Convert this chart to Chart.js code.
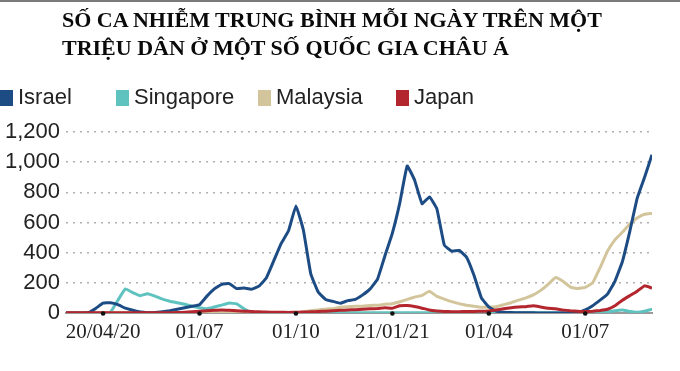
<!DOCTYPE html>
<html><head><meta charset="utf-8">
<script src="https://cdn.jsdelivr.net/npm/chart.js@4"></script>
<style>
html,body{margin:0;padding:0;background:#fff;}
#wrap{position:relative;width:680px;height:371px;overflow:hidden;background:#fff;}
#topline{position:absolute;left:0;top:0;width:680px;height:2px;background:#7a7a7a;}
#title{position:absolute;left:62px;top:6px;font-family:"Liberation Serif","Times New Roman",serif;font-weight:bold;font-size:22px;line-height:28px;color:#0a0a0a;white-space:nowrap;}
#legend{position:absolute;left:0;top:84px;height:26px;font-family:"Liberation Sans",Arial,sans-serif;font-size:22px;color:#222;}
.li{position:absolute;top:0;white-space:nowrap;line-height:26px;}
.sw{display:inline-block;width:13px;height:16px;vertical-align:-2px;margin-right:5px;}
canvas{position:absolute;left:0;top:0;}
</style></head>
<body>
<div id="wrap">
<canvas id="c" width="680" height="371"></canvas>
<div id="topline"></div>
<div id="title">SỐ CA NHIỄM TRUNG BÌNH MỖI NGÀY TRÊN MỘT<br>TRIỆU DÂN Ở MỘT SỐ QUỐC GIA CHÂU Á</div>
<div id="legend"></div>
</div>
<script>
// weekly index (0..79)
const tickLabels = ['20/04/20','01/07','01/10','21/01/21','01/04','01/07'];
const tickIndex = [5,18,31,44,57,70];
const seriesNames = ['Israel','Singapore','Malaysia','Japan'];

const israel = [0,0,0,2,30,65,68,55,32,18, 6,2,3,8,15,25,35,45,55,112, 160,190,195,162,165,158,178,232,345,460, 545,710,550,260,139,90,77,65,82,90, 120,160,225,380,530,730,975,880,725,770, 690,450,410,415,370,250,100,40,12,5, 3,2,1,1,0,0,0,0,0,3, 20,48,85,125,210,340,540,760,900,1050];
const singapore = [0,0,0,0,0,0,5,85,160,135, 115,128,112,92,78,68,58,45,35,28, 40,52,66,60,28,3,2,2,2,2, 2,2,2,2,2,2,2,2,2,2, 2,2,2,2,2,2,2,2,2,2, 2,2,2,2,2,2,2,2,2,2, 2,2,2,2,2,2,2,2,2,2, 2,2,3,6,15,20,10,5,12,25];
const malaysia = [1,1,1,1,1,1,1,1,1,1, 1,1,1,1,1,1,1,1,1,1, 1,1,1,1,1,1,1,1,1,1, 1,3,8,15,20,25,30,38,42,44, 45,50,52,58,62,75,90,105,117,145, 110,92,75,62,52,45,38,38,42,55, 68,85,100,120,150,190,235,210,172,162, 170,200,300,410,485,535,590,630,655,660];
const japan = [2,2,2,2,2,2,2,2,2,2, 2,2,2,2,2,3,5,8,12,15, 18,20,18,15,12,10,8,6,5,5, 4,5,6,8,10,12,15,18,20,22, 25,28,30,35,32,48,50,43,32,20, 14,10,9,9,10,10,12,14,20,28, 35,40,42,48,40,32,28,20,15,12, 10,12,17,25,48,85,115,145,180,165];

const colors = ['#1d4c85','#5ec2bf','#d3c59b','#b3262d'];
const allSeries = [israel, singapore, malaysia, japan];
const drawOrder = [1,3,2,0];
const labels = israel.map((_, i) => i);

const datasets = allSeries.map((d, k) => ({
  label: seriesNames[k], data: d, borderColor: colors[k], backgroundColor: colors[k],
  borderWidth: 3, pointRadius: 0, tension: 0.1, fill: false, order: drawOrder[k]
}));

// HTML legend
const legendLeft = [0, 116, 258, 396];
const lg = document.getElementById('legend');
seriesNames.forEach((n, k) => {
  const el = document.createElement('div');
  el.className = 'li';
  el.style.left = legendLeft[k] + 'px';
  el.innerHTML = '<span class="sw" style="background:' + colors[k] + '"></span>' + n;
  lg.appendChild(el);
});

const tickDots = {
  id: 'tickDots',
  afterDraw(chart) {
    const ctx = chart.ctx, xs = chart.scales.x, y = chart.chartArea.bottom;
    ctx.save();
    ctx.fillStyle = '#111';
    tickIndex.forEach(v => {
      ctx.beginPath();
      ctx.arc(xs.getPixelForValue(v), y + 0.5, 2.3, 0, Math.PI * 2);
      ctx.fill();
    });
    ctx.restore();
  }
};

new Chart(document.getElementById('c'), {
  type: 'line',
  data: { labels, datasets },
  plugins: [tickDots],
  options: {
    responsive: false, animation: false, devicePixelRatio: 1,
    layout: { padding: { top: 132, right: 28, left: 0, bottom: 0 } },
    plugins: { legend: { display: false }, title: { display: false }, tooltip: { enabled: false } },
    scales: {
      x: {
        type: 'linear', min: 0, max: labels.length - 1,
        afterFit(s) { s.height = 58; },
        afterBuildTicks(s) { s.ticks = tickIndex.map(v => ({ value: v })); },
        grid: { display: false, drawTicks: false },
        border: { display: true, color: '#9a9a9a', width: 2 },
        ticks: {
          autoSkip: false, maxRotation: 0, padding: 7, color: '#222',
          font: { family: '"Liberation Serif","Times New Roman",serif', size: 21 },
          callback: (v) => { const j = tickIndex.indexOf(v); return j >= 0 ? tickLabels[j] : ''; }
        }
      },
      y: {
        min: 0, max: 1200,
        afterFit(s) { s.width = 66; },
        grid: { color: '#b0b0b0', lineWidth: 1.5, drawTicks: false },
        border: { display: false, dash: [2, 5] },
        ticks: {
          stepSize: 200, padding: 6, color: '#222',
          font: { family: '"Liberation Sans",Arial,sans-serif', size: 22 },
          callback: v => v.toLocaleString('en-US')
        }
      }
    }
  }
});
</script>
</body></html>
